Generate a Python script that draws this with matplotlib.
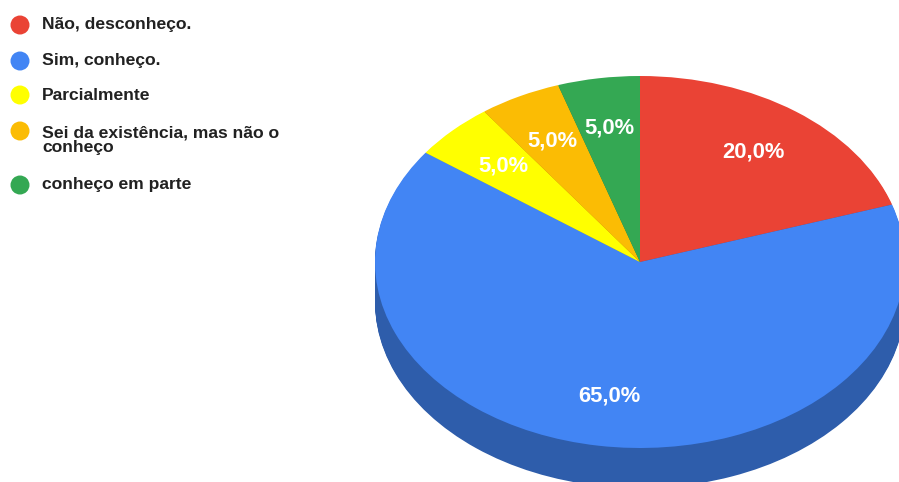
import numpy as np
import matplotlib.pyplot as plt
from matplotlib.colors import to_rgb

W, H = 899, 482

categories = ['Não, desconheço.', 'Sim, conheço.', 'Parcialmente',
              'Sei da existência, mas não o\nconheço', 'conheço em parte']
values = [20, 65, 5, 5, 5]
colors = ['#ea4335', '#4285f4', '#ffff00', '#fbbc04', '#34a853']
legend_rows = [25, 61, 95, 131, 185]
legend_text_rows = [25, 60, 95, 140, 184]

# pie geometry in pixels
cx, cy = 640, 262
rx, ry = 265, 186
depth = 40

def side_colour(c):
    return tuple(v * 0.7 for v in to_rgb(c))

def pct_label(p):
    return f'{p:.1f}%'.replace('.', ',')

plt.rcParams['font.family'] = ['Liberation Sans', 'DejaVu Sans']
fig = plt.figure(figsize=(W / 100, H / 100), dpi=100)

ax = fig.add_axes([0, 0, 1, 1])
# stack of darker pies gives the thickness
for d in np.arange(depth, 0, -1):
    ax.pie(values, colors=[side_colour(c) for c in colors], startangle=90,
           counterclock=False, center=(0, -d / ry))
wedges, texts, pcts = ax.pie(values, colors=colors, startangle=90, counterclock=False,
                             autopct=pct_label, pctdistance=0.73,
                             textprops=dict(color='white', fontsize=15.8, fontweight='bold'))
ax.set_aspect('auto')
ax.set_xlim(-cx / rx, (W - cx) / rx)
ax.set_ylim((cy - H) / ry, cy / ry)

# legend drawn by hand so the wrapped entry keeps its spacing
lax = fig.add_axes([0, 0, 1, 1], facecolor='none')
lax.set_xlim(0, W)
lax.set_ylim(H, 0)
lax.axis('off')
lax.scatter([20] * len(colors), legend_rows, s=187, c=colors, linewidths=0)
for name, y in zip(categories, legend_text_rows):
    lax.text(42, y, name, fontsize=12.6, fontweight='bold', color='#212121',
             va='center', ha='left', linespacing=0.95)

fig.savefig('out.png', dpi=100)
